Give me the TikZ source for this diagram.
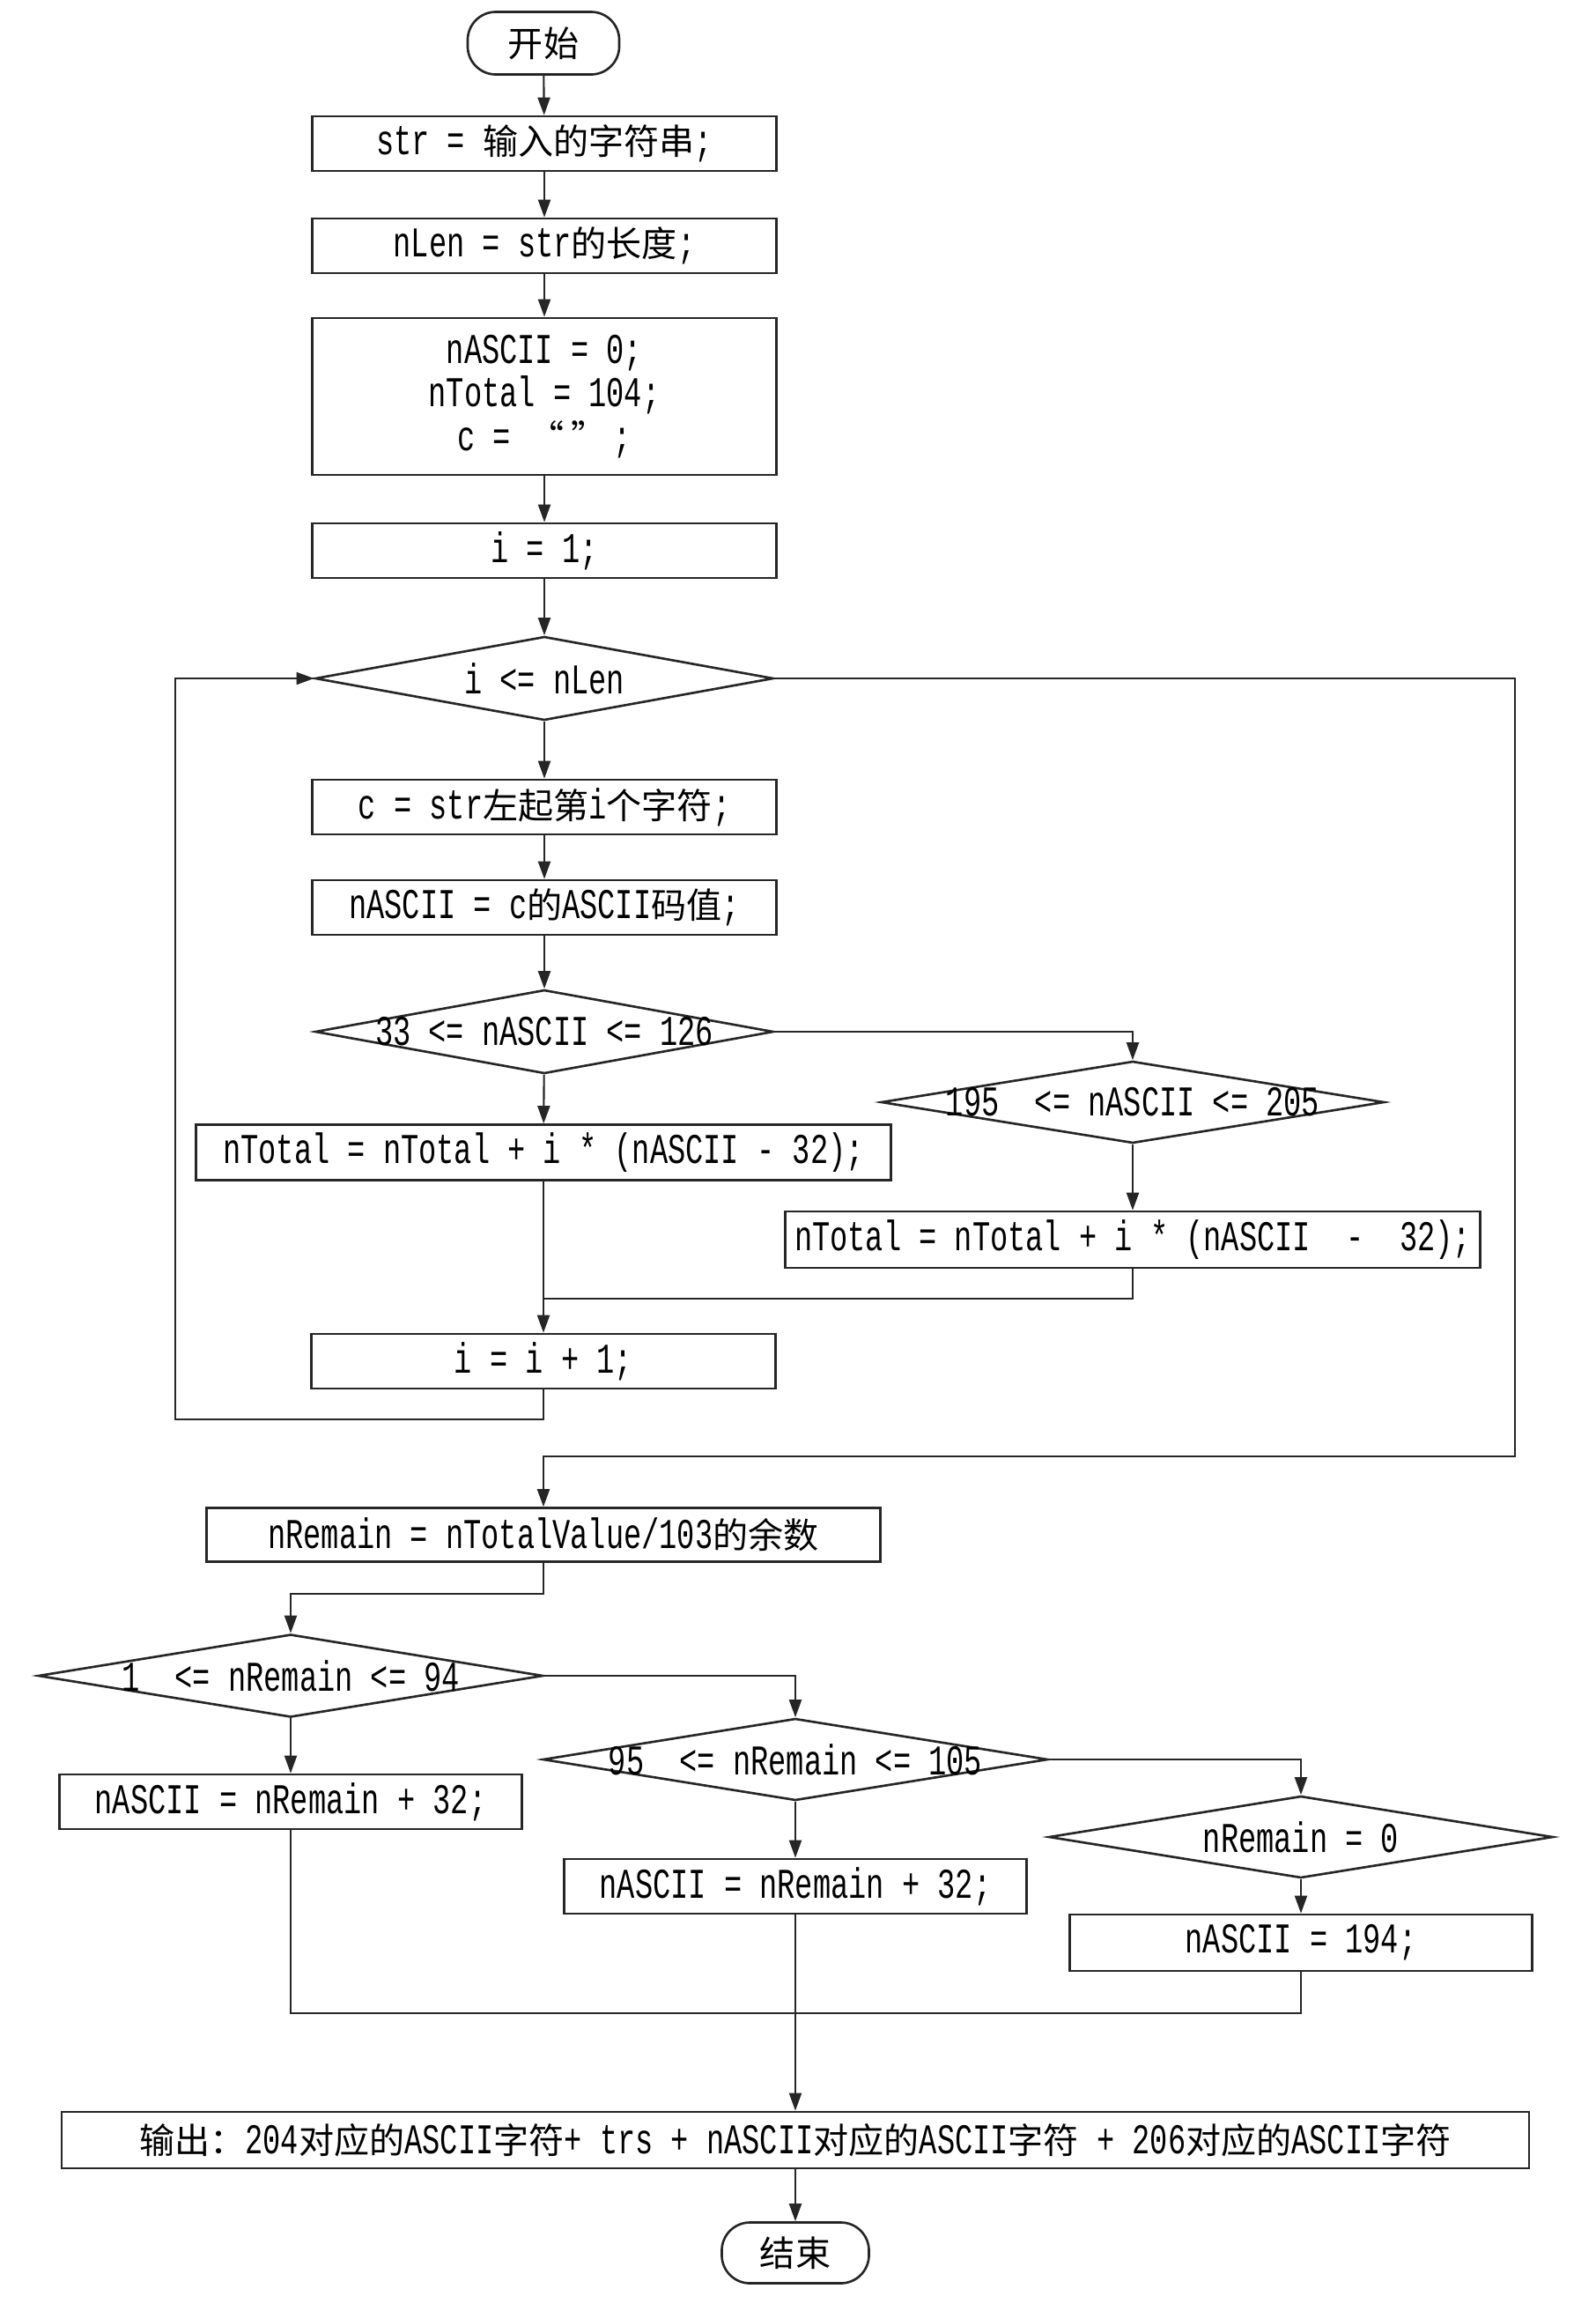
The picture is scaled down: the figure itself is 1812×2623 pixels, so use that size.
\documentclass[tikz,border=0pt]{standalone}
\usepackage{fontspec}
\setmainfont{Liberation Mono}[Scale=1.2,FakeStretch=0.7]
\newfontfamily\cjkfont{Noto Sans CJK SC}
\newcommand{\hz}[1]{{\cjkfont #1}}
\usetikzlibrary{shapes.geometric,arrows.meta}
\tikzset{
  ink/.style={draw=black!85, line width=0.75pt},
  box/.style={ink, rectangle, inner sep=0pt, align=center, minimum height=0.62cm},
  dia/.style={ink, diamond, inner sep=0pt, aspect=1},
  term/.style={ink, rectangle, rounded corners=0.32cm, inner sep=0pt, minimum width=1.7cm, minimum height=0.7cm},
  arr/.style={draw=black!85, line width=0.6pt, -{Triangle[length=0.2cm,width=0.14cm]}},
  ln/.style={draw=black!85, line width=0.6pt},
}
\begin{document}
\begin{tikzpicture}[x=0.01cm, y=-0.01cm, font=\fontsize{11.4}{14}\selectfont]
\fill[white] (0,0) rectangle (1812,2623);
\useasboundingbox (0,0) rectangle (1812,2623);

% nodes
\node[term, minimum width=1.72cm, minimum height=0.71cm] (start) at (617,49) {\hz{开始}};
\node[box, minimum width=5.27cm] (b1) at (618,163) {str = \hz{输入的字符串};};
\node[box, minimum width=5.27cm] (b2) at (618,279) {nLen = str\hz{的长度};};
\node[box, minimum width=5.27cm, minimum height=1.78cm] (b3) at (618,450) {nASCII = 0;\\nTotal = 104;\\c = \hz{“}\,\hz{”}\,;};
\node[box, minimum width=5.27cm] (b4) at (618,625) {i = 1;};
\node[dia, minimum width=5.2cm, minimum height=0.95cm] (d1) at (618,770) {\makebox[0pt]{i <= nLen}};
\node[box, minimum width=5.27cm] (b5) at (618,916) {c = str\hz{左起第}i\hz{个字符};};
\node[box, minimum width=5.27cm] (b6) at (618,1030) {nASCII = c\hz{的}ASCII\hz{码值};};
\node[dia, minimum width=5.2cm, minimum height=0.95cm] (d2) at (618,1171) {\makebox[0pt]{33 <= nASCII <= 126}};
\node[dia, minimum width=5.71cm, minimum height=0.93cm] (d3) at (1286,1251) {\makebox[0pt]{195~~<= nASCII <= 205}};
\node[box, minimum width=7.88cm, minimum height=0.63cm] (b7) at (617,1308) {nTotal = nTotal + i * (nASCII - 32);};
\node[box, minimum width=7.88cm, minimum height=0.64cm] (b8) at (1286,1407) {nTotal = nTotal + i * (nASCII~~-~~32);};
\node[box, minimum width=5.27cm] (b9) at (617,1545) {i = i + 1;};
\node[box, minimum width=7.65cm, minimum height=0.61cm] (b10) at (617,1742) {nRemain = nTotalValue/103\hz{的余数}};
\node[dia, minimum width=5.73cm, minimum height=0.94cm] (d4) at (330,1902) {\makebox[0pt]{1~~<= nRemain <= 94}};
\node[dia, minimum width=5.73cm, minimum height=0.93cm] (d5) at (903,1997) {\makebox[0pt]{95~~<= nRemain <= 105}};
\node[dia, minimum width=5.72cm, minimum height=0.93cm] (d6) at (1477,2085) {\makebox[0pt]{nRemain = 0}};
\node[box, minimum width=5.25cm] (b11) at (330,2045) {nASCII = nRemain + 32;};
\node[box, minimum width=5.25cm] (b12) at (903,2141) {nASCII = nRemain + 32;};
\node[box, minimum width=5.25cm, minimum height=0.64cm] (b13) at (1477,2205) {nASCII = 194;};
\node[box, minimum width=16.65cm, minimum height=0.64cm] (b14) at (903,2429) {\hz{输出：}204\hz{对应的}ASCII\hz{字符}+ trs + nASCII\hz{对应的}ASCII\hz{字符} + 206\hz{对应的}ASCII\hz{字符}};
\node[term, minimum width=1.67cm, minimum height=0.69cm] (end) at (903,2557) {\hz{结束}};

% helper coordinates
\coordinate (m1) at (617,1474);
\coordinate (lb) at (199,1611);
\coordinate (rx) at (1720,1653);
\coordinate (j1) at (617,1809);
\coordinate (m2) at (903,2285);

% connectors
\draw[arr] (start) -- (b1);
\draw[arr] (b1) -- (b2);
\draw[arr] (b2) -- (b3);
\draw[arr] (b3) -- (b4);
\draw[arr] (b4) -- (d1);
\draw[arr] (d1) -- (b5);
\draw[arr] (b5) -- (b6);
\draw[arr] (b6) -- (d2);
\draw[arr] (d2.east) -| (d3.north);
\draw[arr] (d2) -- (b7);
\draw[arr] (d3) -- (b8);
\draw[ln] (b8.south) |- (m1);
\draw[arr] (b7) -- (b9);
\draw[arr] (b9.south) |- (lb) |- (d1.west);
\draw[arr] (d1.east) -| (rx) -| (b10.north);
\draw[arr] (b10.south) -- (j1) -| (d4.north);
\draw[arr] (d4.east) -| (d5.north);
\draw[arr] (d5.east) -| (d6.north);
\draw[arr] (d4) -- (b11);
\draw[arr] (d5) -- (b12);
\draw[arr] (d6) -- (b13);
\draw[ln] (b11.south) |- (m2);
\draw[ln] (b13.south) |- (m2);
\draw[arr] (b12) -- (b14);
\draw[arr] (b14) -- (end);
\end{tikzpicture}
\end{document}
